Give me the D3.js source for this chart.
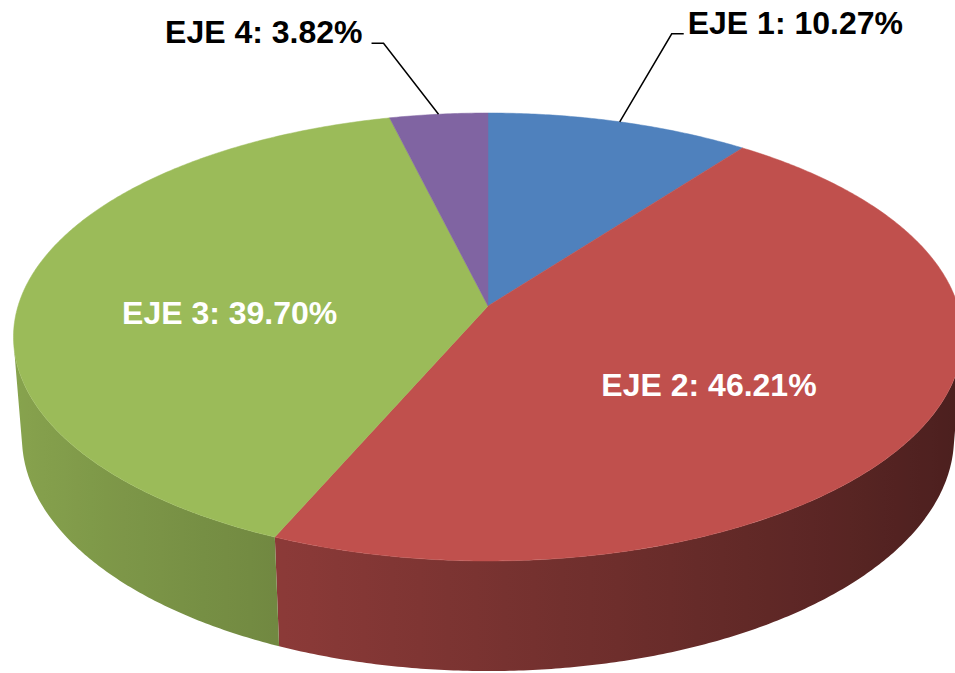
<!DOCTYPE html>
<html lang="es">
<head>
<meta charset="utf-8">
<title>EJE</title>
<script src="https://cdnjs.cloudflare.com/ajax/libs/d3/7.8.5/d3.min.js"></script>
<style>
  html, body { margin: 0; padding: 0; background: #fff; }
  svg { display: block; }
  text { font-family: "Liberation Sans", Arial, sans-serif; font-weight: bold; font-size: 32px; }
</style>
</head>
<body>
<div id="chart"></div>
<script>
// data
const categories = ["EJE 1", "EJE 2", "EJE 3", "EJE 4"];
const values = [10.27, 46.21, 39.70, 3.82];
const valueLabels = ["10.27%", "46.21%", "39.70%", "3.82%"];
const colors = ["#4F81BD", "#C0504D", "#9BBB59", "#8064A2"];

const width = 955, height = 673;

// 3d view: pie of radius 1 seen from above with some perspective
const cx = 488, cy = 306, focal = 3003, dist = 6.39;
const sinA = 0.4675, cosA = Math.sqrt(1 - sinA * sinA);
const thick = 0.244;

function project(theta, r, y) {
    const X = r * Math.sin(theta), Z = -r * Math.cos(theta);
    const d = dist - y * sinA - Z * cosA;
    return [cx + focal * X / d, cy + focal * (Z * sinA - y * cosA) / d];
}

// label layout (inside labels use radius fraction, outside ones a leader)
const inside = { 1: true, 2: true };
const leader = { 0: [52, -88], 3: [-55, -71] };

const svg = d3.select("#chart").append("svg")
    .attr("width", width)
    .attr("height", height);
const defs = svg.append("defs");

const pie = d3.pie().sort(null).value(d => d.value);
const arcs = pie(categories.map((c, i) => ({ name: c, value: values[i], label: valueLabels[i], color: colors[i] })));

const line = d3.line();
const step = Math.PI / 360;

// visible part of the rim
const k = 1 / (dist * cosA);
const visStart = Math.acos(-k), visEnd = 2 * Math.PI - Math.acos(-k);

const shade = d3.scaleLinear().domain([-1, 1]).range([0.88, 0.38]);

const rimG = svg.append("g");
arcs.forEach((a, i) => {
    const a0 = Math.max(a.startAngle, visStart), a1 = Math.min(a.endAngle, visEnd);
    if (a1 <= a0) return;
    const base = d3.rgb(a.data.color);
    const ts = d3.range(a0, a1, step).concat([a1]);
    const topPts = ts.map(t => project(t, 1, 0));
    const botPts = ts.map(t => project(t, 1, -thick)).reverse();

    const xs = topPts.map(p => p[0]);
    const x0 = d3.min(xs), x1 = d3.max(xs);
    const grad = defs.append("linearGradient")
        .attr("id", "rim" + i)
        .attr("gradientUnits", "userSpaceOnUse")
        .attr("x1", x0).attr("x2", x1)
        .attr("y1", 0).attr("y2", 0);
    const stops = ts.filter((t, j) => j % 6 === 0 || j === ts.length - 1)
        .map(t => ({ x: project(t, 1, 0)[0], f: shade(Math.sin(t)) }))
        .sort((p, q) => p.x - q.x);
    stops.forEach(s => {
        grad.append("stop")
            .attr("offset", (s.x - x0) / (x1 - x0))
            .attr("stop-color", d3.rgb(base.r * s.f, base.g * s.f, base.b * s.f).formatHex());
    });

    rimG.append("path")
        .attr("d", line(topPts.concat(botPts)) + "Z")
        .attr("fill", "url(#rim" + i + ")");
});

// top faces
const topG = svg.append("g");
arcs.forEach(a => {
    const pts = [project(0, 0, 0)];
    d3.range(a.startAngle, a.endAngle, step).concat([a.endAngle])
        .forEach(t => pts.push(project(t, 1, 0)));
    topG.append("path")
        .attr("d", line(pts) + "Z")
        .attr("fill", a.data.color)
        .attr("stroke", a.data.color)
        .attr("stroke-width", 0.5);
});

// labels
const labelG = svg.append("g");
arcs.forEach((a, i) => {
    const mid = (a.startAngle + a.endAngle) / 2;
    const txt = a.data.name + ": " + a.data.label;
    if (inside[i]) {
        const p = project(mid, 0.54, 0);
        labelG.append("text")
            .attr("x", p[0] - 7)
            .attr("y", p[1] + 28)
            .attr("text-anchor", "middle")
            .attr("fill", "#fff")
            .text(txt);
    } else {
        const p = project(mid, 1, 0);
        const off = leader[i];
        const dir = off[0] > 0 ? 1 : -1;
        const elbow = [p[0] + off[0], p[1] + off[1]];
        const end = [elbow[0] + dir * 12, elbow[1]];
        labelG.append("path")
            .attr("d", line([p, elbow, end]))
            .attr("fill", "none")
            .attr("stroke", "#000")
            .attr("stroke-width", 1.5);
        labelG.append("text")
            .attr("x", end[0] + dir * (dir > 0 ? 4 : 9))
            .attr("y", end[1])
            .attr("text-anchor", dir > 0 ? "start" : "end")
            .attr("fill", "#000")
            .text(txt);
    }
});
</script>
</body>
</html>
